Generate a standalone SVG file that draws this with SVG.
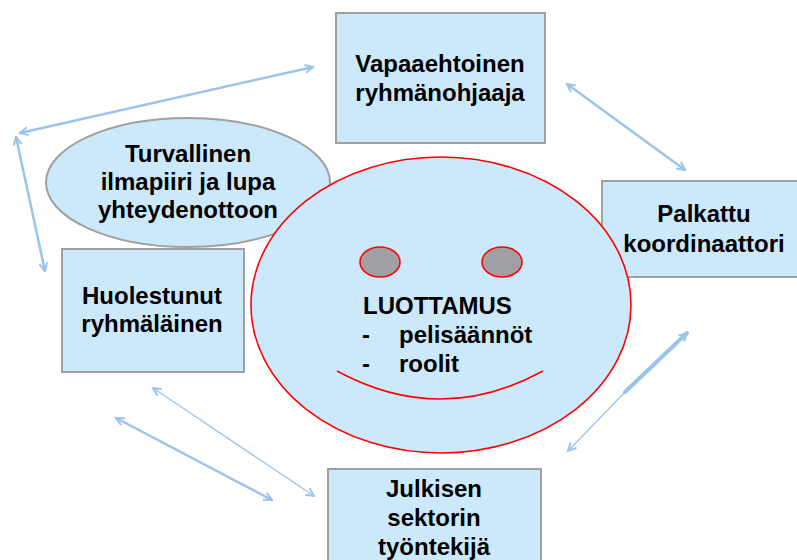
<svg xmlns="http://www.w3.org/2000/svg" width="797" height="560" viewBox="0 0 797 560">
<style>
.box{fill:#CCE9FB;stroke:#A0A0A0;stroke-width:2}
.t{font-family:"Liberation Sans",Arial,sans-serif;font-weight:bold;font-size:24px;fill:#000}
.c{text-anchor:middle}
.con{fill:none;stroke:#9CC3EC;stroke-linecap:round}
.red{stroke:#FF0000;stroke-width:1.6}
</style>
<defs>
<marker id="ah" viewBox="0 0 10 10" refX="9" refY="5" markerWidth="10" markerHeight="10" markerUnits="userSpaceOnUse" orient="auto-start-reverse">
<path d="M1,1 L9,5 L1,9" fill="none" stroke="#9CC3EC" stroke-width="2"/>
</marker>
</defs>
<rect width="797" height="560" fill="#FFFFFF"/>

<g id="node-turvallinen">
<ellipse cx="188" cy="182.5" rx="142" ry="64.5" fill="#CCE9FB" stroke="#A0A0A0" stroke-width="2"/>
<text class="t c" x="188" y="162">Turvallinen</text>
<text class="t c" x="188" y="190">ilmapiiri ja lupa</text>
<text class="t c" x="188" y="218">yhteydenottoon</text>
</g>

<g id="node-vapaaehtoinen">
<rect class="box" x="336" y="13" width="209" height="130"/>
<text class="t c" x="440" y="72">Vapaaehtoinen</text>
<text class="t c" x="440" y="101">ryhmänohjaaja</text>
</g>

<g id="node-palkattu">
<rect class="box" x="602" y="181" width="206" height="96"/>
<text class="t c" x="704" y="222">Palkattu</text>
<text class="t c" x="704" y="252">koordinaattori</text>
</g>

<g id="node-huolestunut">
<rect class="box" x="62" y="249" width="182" height="123"/>
<text class="t c" x="152" y="304">Huolestunut</text>
<text class="t c" x="152" y="332">ryhmäläinen</text>
</g>

<g id="node-julkisen">
<rect class="box" x="328" y="469" width="213" height="100"/>
<text class="t c" x="434" y="497">Julkisen</text>
<text class="t c" x="434" y="526">sektorin</text>
<text class="t c" x="434" y="555">työntekijä</text>
</g>

<g id="node-luottamus">
<ellipse class="red" cx="441" cy="305" rx="190" ry="148" fill="#CCE9FB"/>
<ellipse class="red" cx="380" cy="262" rx="20" ry="15" fill="#A0A0A4"/>
<ellipse class="red" cx="502" cy="262" rx="20" ry="15" fill="#A0A0A4"/>
<path class="red" d="M337,371 Q440,427 543,371" fill="none"/>
<text class="t" x="363" y="314">LUOTTAMUS</text>
<text class="t" x="362" y="343">-</text>
<text class="t" x="399" y="343">pelisäännöt</text>
<text class="t" x="362" y="372">-</text>
<text class="t" x="399" y="372">roolit</text>
</g>

<g id="connectors">
<line class="con" x1="20" y1="133" x2="313" y2="67" stroke-width="2.5" marker-start="url(#ah)" marker-end="url(#ah)"/>
<line class="con" x1="16" y1="137" x2="45" y2="271" stroke-width="2.5" marker-start="url(#ah)" marker-end="url(#ah)"/>
<line class="con" x1="567" y1="84" x2="685" y2="170" stroke-width="2.5" marker-start="url(#ah)" marker-end="url(#ah)"/>
<line class="con" x1="625" y1="392" x2="687" y2="333" stroke-width="4" marker-end="url(#ah)"/>
<line class="con" x1="625" y1="392" x2="568" y2="451" stroke-width="1.2" marker-end="url(#ah)"/>
<line class="con" x1="116" y1="418" x2="272" y2="500" stroke-width="2.5" marker-start="url(#ah)" marker-end="url(#ah)"/>
<line class="con" x1="153" y1="388" x2="314" y2="496" stroke-width="1.3" marker-start="url(#ah)" marker-end="url(#ah)"/>
</g>
</svg>
